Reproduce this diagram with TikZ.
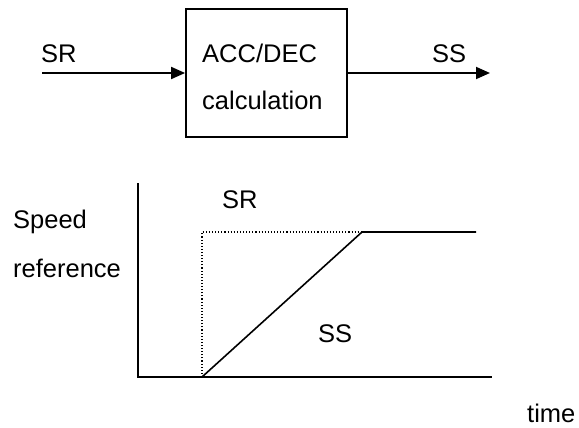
\documentclass[tikz,border=0pt]{standalone}
\usepackage{fontspec}
\setmainfont{Liberation Sans}
\usetikzlibrary{arrows.meta}
\begin{document}
\begin{tikzpicture}[x=1pt,y=-1pt,
  lbl/.style={anchor=base west,inner sep=0pt,font=\fontsize{25.5}{30}\selectfont},
  blk/.style={draw,line width=1.8pt,minimum width=161pt,minimum height=128pt,inner sep=0pt},
  sig/.style={line width=1.8pt,-{Triangle[length=14pt,width=12pt]}},
  axis/.style={line width=1.8pt},
  ramp/.style={line width=1.6pt},
  ref/.style={line width=1.1pt,dotted}]
\useasboundingbox (0,0) rectangle (579,428);
% block diagram
\node[blk] (calc) at (266.5,73) {};
\node[lbl] (t1) at (202,63) {ACC/DEC};
\node[lbl] (t2) at (202,110) {calculation};
\coordinate (in) at (42,73);
\coordinate (out) at (490,73);
\draw[sig] (in) -- (calc.west);
\draw[sig] (calc.east) -- (out);
\node[lbl] (sr1) at (41,63) {SR};
\node[lbl] (ss1) at (432,63) {SS};
% graph
\coordinate (o) at (138,377);
\coordinate (ytop) at (138,183);
\coordinate (xend) at (492,377);
\coordinate (t0) at (202,377);
\coordinate (t0top) at (202,232);
\coordinate (r) at (362,232);
\coordinate (rend) at (476,232);
\draw[axis] (ytop) -- (o) -- (xend);
\draw[ref] (t0) -- (t0top) -- (r);
\draw[ramp] (t0) -- (r) -- (rend);
\node[lbl] (sr2) at (222,208) {SR};
\node[lbl] (ss2) at (318,342) {SS};
\node[lbl] (sp) at (13,228) {Speed};
\node[lbl] (rf) at (13,277) {reference};
\node[lbl] (tm) at (527,422) {time};
\end{tikzpicture}
\end{document}
